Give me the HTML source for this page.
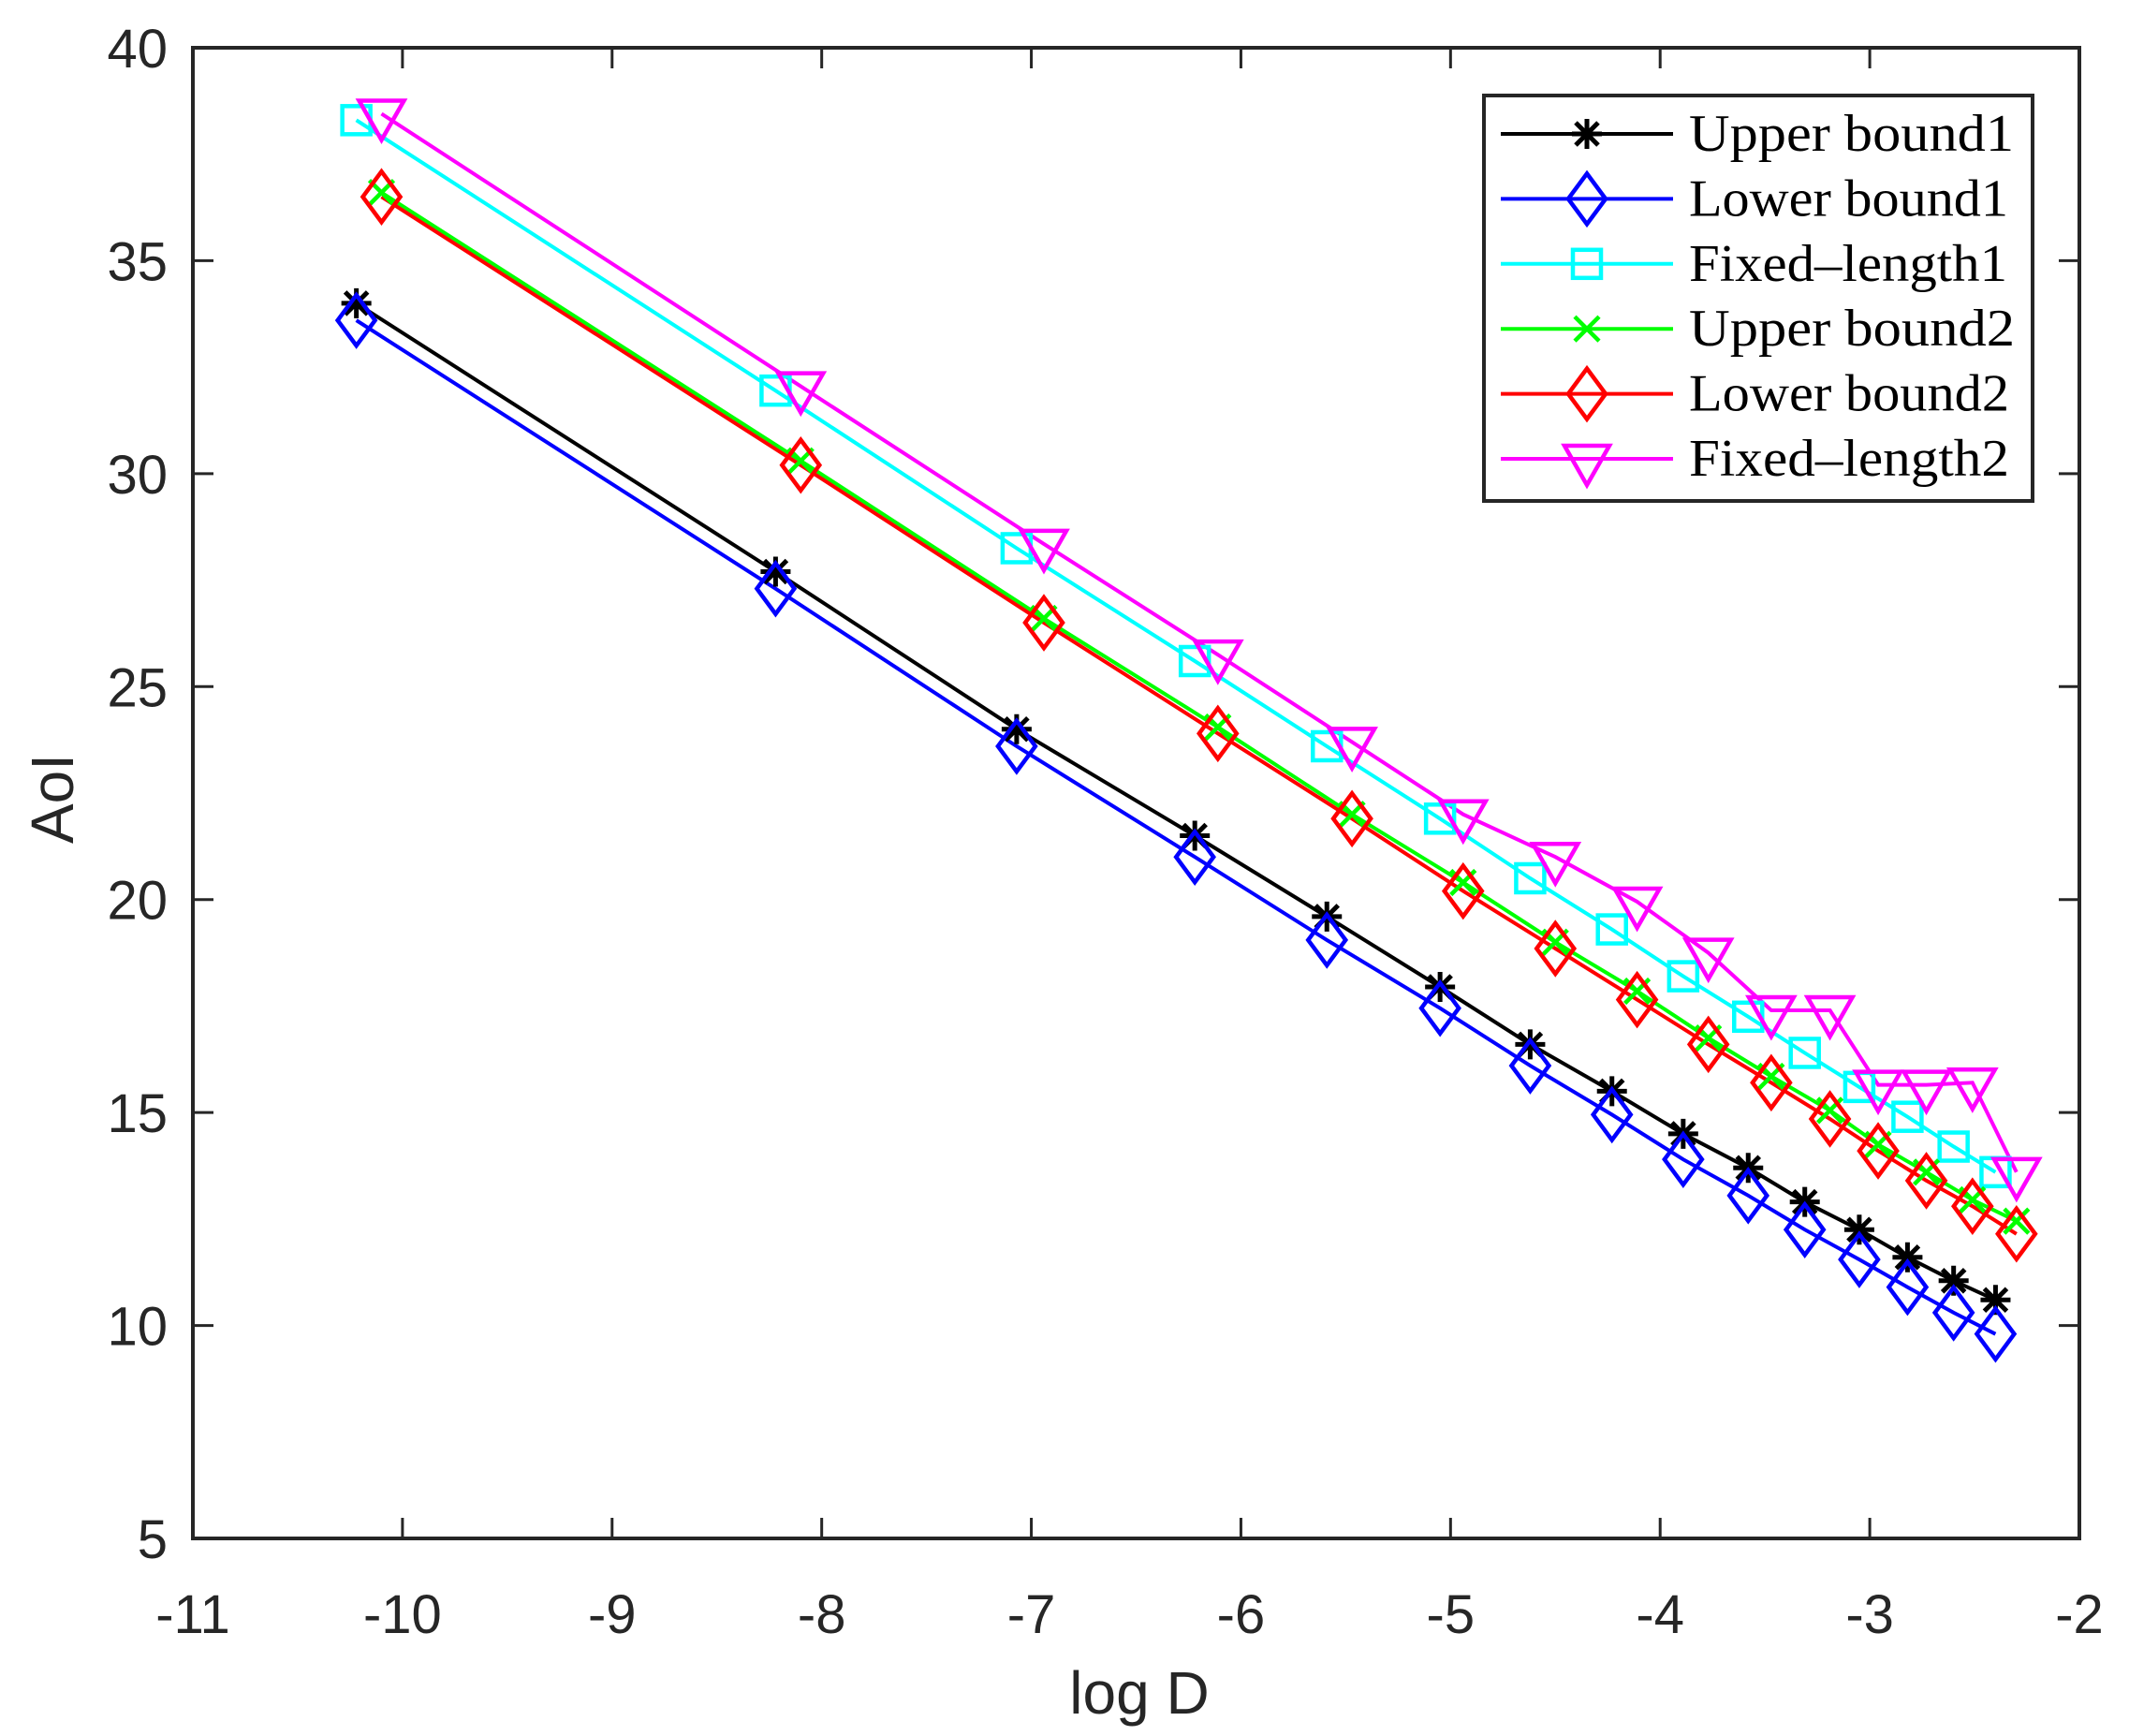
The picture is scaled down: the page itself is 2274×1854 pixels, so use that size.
<!DOCTYPE html>
<html><head><meta charset="utf-8"><style>
html,body{margin:0;padding:0;background:#fff}
svg{display:block}
</style></head><body>
<svg id="s" xmlns="http://www.w3.org/2000/svg" width="2274" height="1854" viewBox="0 0 2274 1854">
<rect x="0" y="0" width="2274" height="1854" fill="#fff"/>
<g id="plot"></g>
<g id="axes" font-family="Liberation Sans, sans-serif" font-size="58" fill="#262626"></g>
<g id="leg"></g>
</svg>
<script>
const NS="http://www.w3.org/2000/svg";
const L=206,R=2221,T=51,B=1643;
const X=v=>L+(v+11)*(R-L)/9, Y=v=>T+(40-v)*(B-T)/35;
function el(p,tag,a,txt){const e=document.createElementNS(NS,tag);for(const k in a)e.setAttribute(k,a[k]);if(txt!==undefined)e.textContent=txt;p.appendChild(e);return e;}
const plot=document.getElementById('plot'),axes=document.getElementById('axes'),leg=document.getElementById('leg');
const x1=[-10.22,-8.22,-7.07,-6.22,-5.59,-5.05,-4.62,-4.23,-3.89,-3.58,-3.31,-3.05,-2.82,-2.60,-2.40];
const x2=[-10.10,-8.10,-6.94,-6.11,-5.47,-4.94,-4.50,-4.11,-3.77,-3.47,-3.19,-2.96,-2.73,-2.51,-2.30];
const S=[
 {c:'#000000',m:'star',x:x1,y:[34.0,27.7,24.0,21.5,19.6,17.95,16.6,15.5,14.5,13.7,12.9,12.25,11.6,11.05,10.6]},
 {c:'#0000ff',m:'dia',x:x1,y:[33.6,27.3,23.6,21.0,19.05,17.45,16.1,14.95,13.9,13.05,12.25,11.55,10.9,10.3,9.8]},
 {c:'#00ffff',m:'sq',x:x1,y:[38.3,31.95,28.25,25.6,23.6,21.9,20.5,19.3,18.2,17.25,16.4,15.6,14.9,14.2,13.6]},
 {c:'#00ff00',m:'x',x:x2,y:[36.6,30.3,26.6,24.05,22.0,20.4,19.0,17.85,16.75,15.85,15.05,14.25,13.6,12.95,12.45]},
 {c:'#ff0000',m:'dia',x:x2,y:[36.5,30.2,26.5,23.9,21.9,20.2,18.85,17.65,16.6,15.7,14.85,14.1,13.4,12.8,12.15]},
 {c:'#ff00ff',m:'tri',x:x2,y:[38.45,32.05,28.35,25.75,23.7,22.0,21.0,19.95,18.75,17.4,17.4,15.65,15.65,15.7,13.6]}
];
function marker(p,m,cx,cy,c){
 const st={fill:'none',stroke:c,'stroke-width':4.5};
 if(m==='dia')el(p,'polygon',Object.assign({points:`${cx},${cy-27} ${cx+20},${cy} ${cx},${cy+27} ${cx-20},${cy}`},st));
 else if(m==='sq')el(p,'rect',Object.assign({x:cx-15,y:cy-15,width:30,height:30},st));
 else if(m==='tri')el(p,'polygon',Object.assign({points:`${cx-24},${cy-14} ${cx+24},${cy-14} ${cx},${cy+28}`},st));
 else if(m==='x'){el(p,'path',Object.assign({d:`M${cx-13},${cy-13}L${cx+13},${cy+13}M${cx-13},${cy+13}L${cx+13},${cy-13}`},st));}
 else if(m==='star'){const r=16;el(p,'path',Object.assign({d:`M${cx-r},${cy}L${cx+r},${cy}M${cx},${cy-r}L${cx},${cy+r}M${cx-12},${cy-12}L${cx+12},${cy+12}M${cx-12},${cy+12}L${cx+12},${cy-12}`},st,{'stroke-width':5}));}
}
S.forEach(s=>{
 const pts=s.x.map((v,i)=>X(v).toFixed(1)+','+Y(s.y[i]).toFixed(1)).join(' ');
 el(plot,'polyline',{points:pts,fill:'none',stroke:s.c,'stroke-width':4});
});
S.forEach(s=>{s.x.forEach((v,i)=>marker(plot,s.m,X(v),Y(s.y[i]),s.c));});
el(axes,'rect',{x:L,y:T,width:R-L,height:B-T,fill:'none',stroke:'#262626','stroke-width':4});
for(let v=-11;v<=-2;v++){const x=X(v);
 el(axes,'line',{x1:x,y1:B,x2:x,y2:B-22,stroke:'#262626','stroke-width':3});
 el(axes,'line',{x1:x,y1:T,x2:x,y2:T+22,stroke:'#262626','stroke-width':3});
 el(axes,'text',{x:x,y:1744,'text-anchor':'middle'},String(v));}
for(let v=5;v<=40;v+=5){const y=Y(v);
 el(axes,'line',{x1:L,y1:y,x2:L+22,y2:y,stroke:'#262626','stroke-width':3});
 el(axes,'line',{x1:R,y1:y,x2:R-22,y2:y,stroke:'#262626','stroke-width':3});
 el(axes,'text',{x:179,y:y+21,'text-anchor':'end'},String(v));}
el(axes,'text',{x:1217,y:1830,'text-anchor':'middle','font-size':64},'log D');
el(axes,'text',{x:0,y:0,'text-anchor':'middle','font-size':64,transform:'translate(78,853) rotate(-90)'},'AoI');
el(leg,'rect',{x:1585,y:102,width:586,height:433,fill:'#fff',stroke:'#262626','stroke-width':4});
const names=['Upper bound1','Lower bound1','Fixed\u2013length1','Upper bound2','Lower bound2','Fixed\u2013length2'];
const tl=[347,341,340,348,342,342];
S.forEach((s,i)=>{const y=143+i*69.4;
 el(leg,'line',{x1:1603,y1:y,x2:1787,y2:y,stroke:s.c,'stroke-width':4});
 marker(leg,s.m,1695,y,s.c);
 el(leg,'text',{x:1804,y:y+18,'font-family':'Liberation Serif, serif','font-size':56,fill:'#000',textLength:tl[i],lengthAdjust:'spacingAndGlyphs'},names[i]);
});
</script>
</body></html>
